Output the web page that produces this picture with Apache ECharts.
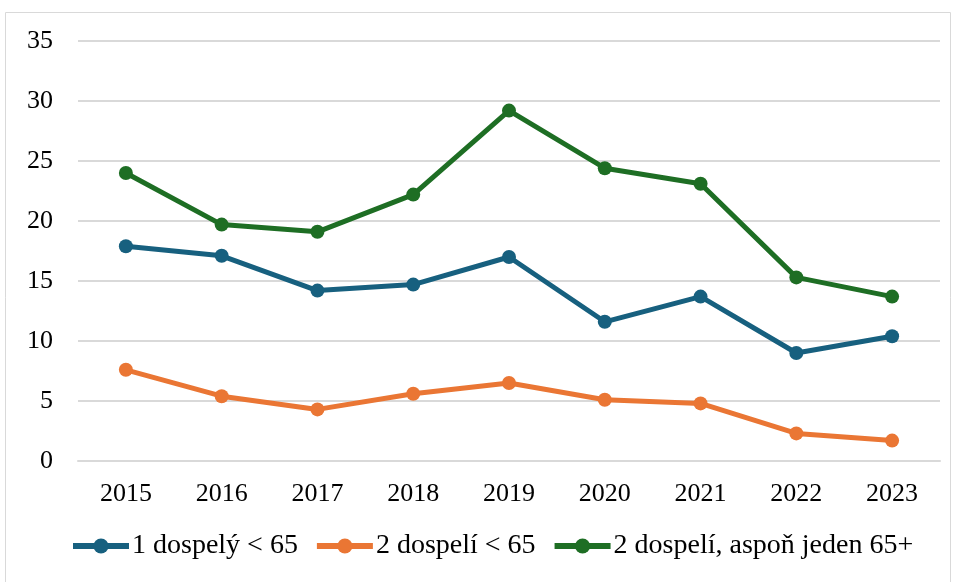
<!DOCTYPE html>
<html>
<head>
<meta charset="utf-8">
<script src="https://cdn.jsdelivr.net/npm/echarts@6/dist/echarts.min.js"></script>
<style>
  html, body { margin: 0; padding: 0; background: #fff; }
  #chart { width: 954px; height: 582px; }
</style>
</head>
<body>
<div id="chart"></div>
<script>
const years = ['2015', '2016', '2017', '2018', '2019', '2020', '2021', '2022', '2023'];
const jedenDospely = [17.9, 17.1, 14.2, 14.7, 17.0, 11.6, 13.7, 9.0, 10.4];
const dvajaDospeli = [7.6, 5.4, 4.3, 5.6, 6.5, 5.1, 4.8, 2.3, 1.7];
const dvajaSeniori = [24.0, 19.7, 19.1, 22.2, 29.2, 24.4, 23.1, 15.3, 13.7];

const chart = echarts.init(document.getElementById('chart'));
const font = 'Liberation Serif';

function line(name, data, color) {
  return {
    name: name,
    type: 'line',
    data: data,
    color: color,
    symbol: 'circle',
    symbolSize: 14,
    lineStyle: { width: 5, color: color },
    itemStyle: { color: color },
    animation: false
  };
}

chart.setOption({
  animation: false,
  graphic: [{
    type: 'rect',
    shape: { x: 5.5, y: 12.5, width: 945, height: 580 },
    style: { fill: 'none', stroke: '#d9d9d9', lineWidth: 1 },
    silent: true
  }],
  grid: { left: 78, right: 14, top: 41, bottom: 121 },
  xAxis: {
    type: 'category',
    data: years,
    axisLine: { lineStyle: { color: '#d9d9d9', width: 2 } },
    axisTick: { show: false },
    axisLabel: { color: '#000', fontFamily: font, fontSize: 26, margin: 20 }
  },
  yAxis: {
    type: 'value',
    min: 0,
    max: 35,
    interval: 5,
    axisLine: { show: false },
    axisTick: { show: false },
    splitLine: { lineStyle: { color: '#d9d9d9', width: 2 } },
    axisLabel: { color: '#000', fontFamily: font, fontSize: 26, margin: 25 }
  },
  legend: {
    top: 532,
    left: 70,
    padding: 0,
    itemWidth: 56,
    itemHeight: 19,
    itemGap: 16,
    lineStyle: { width: 6 },
    textStyle: { color: '#000', fontFamily: font, fontSize: 28, padding: [0, 0, 0, -2] },
    data: ['1 dospelý < 65', '2 dospelí < 65', '2 dospelí, aspoň jeden 65+']
  },
  series: [
    line('1 dospelý < 65', jedenDospely, '#17607f'),
    line('2 dospelí < 65', dvajaDospeli, '#ea7634'),
    line('2 dospelí, aspoň jeden 65+', dvajaSeniori, '#1e6e24')
  ]
});
</script>
</body>
</html>
